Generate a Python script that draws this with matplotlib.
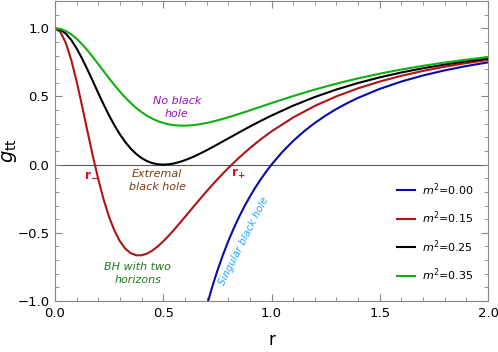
import matplotlib
matplotlib.use("Agg")
import matplotlib.pyplot as plt
from matplotlib.ticker import MultipleLocator

# r grid
r_fine = [0.0, 0.025, 0.05, 0.075, 0.1, 0.125, 0.15, 0.175, 0.2, 0.225, 0.25, 0.275,
          0.3, 0.325, 0.35, 0.375, 0.4, 0.425, 0.45, 0.475, 0.5, 0.525, 0.55, 0.575,
          0.6, 0.625, 0.65, 0.675, 0.7, 0.725, 0.75, 0.775, 0.8, 0.85, 0.9, 0.95, 1.0,
          1.1, 1.2, 1.3, 1.4, 1.5, 1.6, 1.7, 1.8, 1.9, 2.0]

g_m015 = [1.0, 0.9725, 0.8925, 0.7677, 0.6094, 0.4304, 0.2438, 0.0613, -0.1080, -0.2578,
          -0.3841, -0.4856, -0.5625, -0.6165, -0.6497, -0.6649, -0.6649, -0.6524, -0.6297,
          -0.5991, -0.5625, -0.5215, -0.4774, -0.4313, -0.3841, -0.3365, -0.2891, -0.2422,
          -0.1963, -0.1515, -0.1080, -0.0660, -0.0255, 0.0509, 0.1211, 0.1853, 0.2439,
          0.3458, 0.4304, 0.5008, 0.5598, 0.6094, 0.6514, 0.6873, 0.7181, 0.7447, 0.7677]

g_m025 = [1.0, 0.9900, 0.9608, 0.9139, 0.8521, 0.7785, 0.6970, 0.6111, 0.5244, 0.4398,
          0.3600, 0.2868, 0.2215, 0.1648, 0.1172, 0.0784, 0.0482, 0.0260, 0.0110, 0.0026,
          0.0, 0.0024, 0.0090, 0.0193, 0.0325, 0.0482, 0.0658, 0.0849, 0.1052, 0.1263,
          0.1479, 0.1699, 0.1920, 0.2361, 0.2791, 0.3205, 0.3600, 0.4324, 0.4958, 0.5510,
          0.5987, 0.6400, 0.6758, 0.7069, 0.7340, 0.7577, 0.7785]

g_m035 = [1.0, 0.9949, 0.9799, 0.9555, 0.9228, 0.8831, 0.8378, 0.7886, 0.7370, 0.6846,
          0.6327, 0.5825, 0.5351, 0.4912, 0.4513, 0.4158, 0.3849, 0.3585, 0.3366, 0.3191,
          0.3056, 0.2958, 0.2895, 0.2863, 0.2859, 0.2879, 0.2920, 0.2980, 0.3056, 0.3145,
          0.3245, 0.3354, 0.3470, 0.3719, 0.3980, 0.4247, 0.4513, 0.5028, 0.5506, 0.5939,
          0.6327, 0.6672, 0.6977, 0.7247, 0.7486, 0.7698, 0.7886]

r_sing = [0.7, 0.725, 0.75, 0.775, 0.8, 0.825, 0.85, 0.875, 0.9, 0.925, 0.95, 0.975, 1.0,
          1.05, 1.1, 1.15, 1.2, 1.25, 1.3, 1.35, 1.4, 1.5, 1.6, 1.7, 1.8, 1.9, 2.0]
g_m000 = [-1.0408, -0.9025, -0.7778, -0.6649, -0.5625, -0.4692, -0.3841, -0.3061, -0.2346,
          -0.1687, -0.1080, -0.0519, 0.0, 0.0930, 0.1736, 0.2439, 0.3056, 0.3600, 0.4083,
          0.4513, 0.4898, 0.5556, 0.6094, 0.6540, 0.6914, 0.7230, 0.7500]

labels = ["$m^2$=0.00", "$m^2$=0.15", "$m^2$=0.25", "$m^2$=0.35"]
colors = ["#0a0ab0", "#b01414", "#000000", "#10b010"]

fig = plt.figure(figsize=(4.98, 3.52), dpi=100)
ax = fig.add_axes([55/498, 1-301/352, 433/498, 300/352])

ax.axhline(0, color="#555555", lw=0.8, zorder=1)
ax.plot(r_sing, g_m000, color=colors[0], lw=1.5, label=labels[0])
ax.plot(r_fine, g_m015, color=colors[1], lw=1.5, label=labels[1])
ax.plot(r_fine, g_m025, color=colors[2], lw=1.5, label=labels[2])
ax.plot(r_fine, g_m035, color=colors[3], lw=1.5, label=labels[3])

ax.set_xlim(0, 2.0)
ax.set_ylim(-1.0, 1.2)
ax.xaxis.set_major_locator(MultipleLocator(0.5))
ax.xaxis.set_minor_locator(MultipleLocator(0.1))
ax.yaxis.set_major_locator(MultipleLocator(0.5))
ax.yaxis.set_minor_locator(MultipleLocator(0.1))
ax.tick_params(which="both", direction="in", top=True, right=True, color="#888888",
               labelsize=9.5, pad=4)
ax.tick_params(which="major", length=5)
ax.tick_params(which="minor", length=3)
ax.set_yticks([-1.0, -0.5, 0.0, 0.5, 1.0])
for s in ax.spines.values():
    s.set_color("#888888")

ax.set_xlabel("r", fontsize=12)
ax.xaxis.set_label_coords(0.5, -0.10)
ax.set_ylabel(r"$g_{\rm tt}$", fontsize=14)
ax.yaxis.set_label_coords(-0.083, 0.5)

tk = dict(style="italic", fontsize=8, ha="center", va="center", linespacing=1.4)
ax.text(0.563, 0.42, "No black\nhole", color="#9a10c0", **tk)
ax.text(0.472, -0.115, "Extremal\nblack hole", color="#7a3a10", **tk)
ax.text(0.383, -0.80, "BH with two\nhorizons", color="#207a20", **tk)
ax.text(0.874, -0.565, "Singular black hole", color="#20a8ff", rotation=63,
        style="italic", fontsize=7.4, ha="center", va="center")
ax.text(0.166, -0.07, r"$\mathbf{r}_{\mathbf{-}}$", color="#e01010", fontsize=9,
        ha="center", va="center", fontweight="bold")
ax.text(0.845, -0.07, r"$\mathbf{r}_{\mathbf{+}}$", color="#e01010", fontsize=9,
        ha="center", va="center", fontweight="bold")

ax.legend(loc="upper left", bbox_to_anchor=(0.79, 0.40), frameon=False, fontsize=8,
          handlelength=1.6, handletextpad=0.6, labelspacing=1.07, borderpad=0,
          borderaxespad=0)

fig.savefig("out.png", dpi=100)
